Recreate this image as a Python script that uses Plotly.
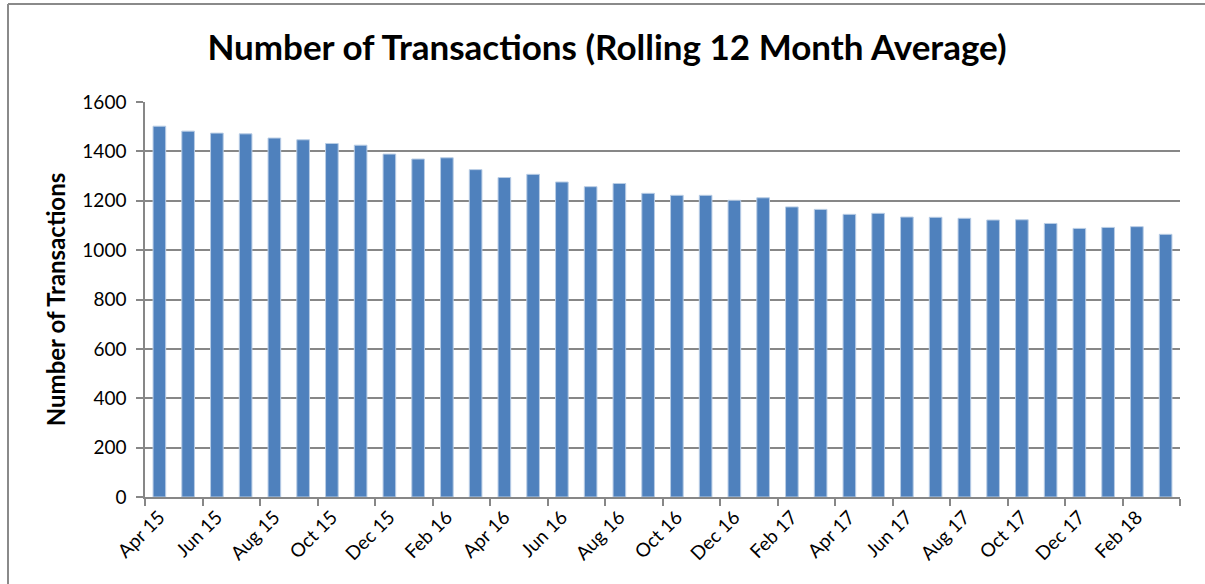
import plotly.graph_objects as go

months = ["Apr 15", "May 15", "Jun 15", "Jul 15", "Aug 15", "Sep 15", "Oct 15", "Nov 15",
          "Dec 15", "Jan 16", "Feb 16", "Mar 16", "Apr 16", "May 16", "Jun 16", "Jul 16",
          "Aug 16", "Sep 16", "Oct 16", "Nov 16", "Dec 16", "Jan 17", "Feb 17", "Mar 17",
          "Apr 17", "May 17", "Jun 17", "Jul 17", "Aug 17", "Sep 17", "Oct 17", "Nov 17",
          "Dec 17", "Jan 18", "Feb 18", "Mar 18"]
transactions = [1502, 1482, 1474, 1471, 1454, 1447, 1432, 1425, 1389, 1369, 1374, 1326,
                1294, 1307, 1276, 1257, 1270, 1230, 1222, 1222, 1202, 1212, 1175, 1165,
                1145, 1149, 1134, 1133, 1129, 1122, 1123, 1108, 1088, 1092, 1095, 1064]

W, H = 1205, 584
L, R, T, B = 145, 25, 102, 87
pw, ph = W - L - R, H - T - B

fig = go.Figure(go.Bar(
    x=months, y=transactions,
    marker=dict(color="#4F81BD", line=dict(color="#B9CDE5", width=1)),
))

grid = "#878787"
font = "Lato, Open Sans, sans-serif"
fig.update_layout(
    width=W, height=H,
    margin=dict(l=L, r=R, t=T, b=B),
    paper_bgcolor="white", plot_bgcolor="white",
    bargap=0.56,
    showlegend=False,
    font=dict(family=font, color="black", size=19),
    title=dict(text="<b>Number of Transactions (Rolling 12 Month Average)</b>",
               x=607 / W, xanchor="center", xref="container",
               y=1 - 48 / H, yanchor="middle", yref="container",
               font=dict(size=35, family=font, color="black")),
    xaxis=dict(type="category", tickmode="linear", tick0=0, dtick=2,
               tickson="boundaries", ticks="outside", ticklen=7, tickwidth=1.5,
               tickcolor=grid, showline=True, linecolor=grid, linewidth=1.5,
               showgrid=False, tickangle=-45, tickfont=dict(size=19)),
    yaxis=dict(range=[0, 1600], dtick=200, tick0=0, ticks="outside", ticklen=7,
               tickwidth=1.5, tickcolor=grid, showline=True, linecolor=grid,
               linewidth=1.5, showgrid=True, gridcolor=grid, gridwidth=1.5,
               zeroline=False, tickfont=dict(size=19), ticklabelstandoff=6,
               title=dict(text="<b>Number of Transactions</b>", standoff=10,
                          font=dict(size=24, family=font))),
)

bx0 = (8 - L) / pw
by1 = (H - B - 4) / ph
fig.add_shape(type="line", xref="paper", yref="paper",
              x0=bx0, x1=(W - L) / pw, y0=by1, y1=by1,
              line=dict(color="#8a8a8a", width=2), layer="below")
fig.add_shape(type="line", xref="paper", yref="paper",
              x0=bx0, x1=bx0, y0=-B / ph, y1=by1,
              line=dict(color="#8a8a8a", width=2), layer="below")

fig.write_html("out.html", config={"displayModeBar": False},
               post_script="document.body.style.margin='0px';"
                           "document.body.style.overflow='hidden';"
                           "document.documentElement.style.overflow='hidden';")
